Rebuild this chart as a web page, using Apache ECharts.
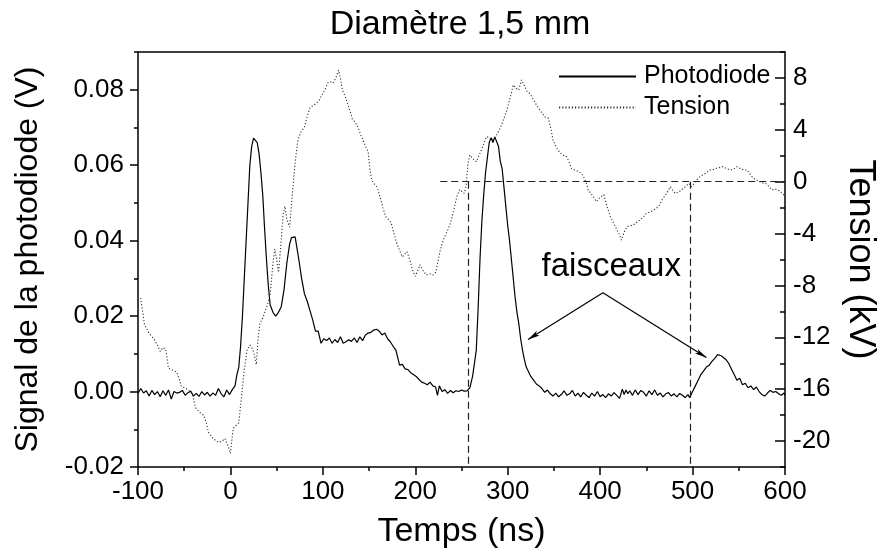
<!DOCTYPE html>
<html>
<head>
<meta charset="utf-8">
<script src="https://cdn.jsdelivr.net/npm/echarts@6/dist/echarts.min.js"></script>
<style>html,body{margin:0;padding:0;background:#fff}#c{width:882px;height:559px}</style>
</head>
<body>
<div id="c"></div>
<script>
// Photodiode signal (V) vs time (ns)
const photodiode = [
[-100,-0.0005],[-97,0.0008],[-94,-0.0004],[-91,0.0002],[-88,-0.0012],[-85,0.0003],[-82,-0.0008],[-79,0.0000],
[-76,-0.0014],[-73,0.0002],[-70,-0.0010],[-67,0.0004],[-64,-0.0020],[-61,0.0000],[-58,-0.0004],[-55,-0.0002],
[-52,0.0003],[-49,-0.0010],[-46,-0.0003],[-43,0.0001],[-40,-0.0012],[-37,-0.0005],[-34,-0.0013],[-31,0.0000],
[-28,-0.0009],[-25,-0.0002],[-22,-0.0012],[-19,-0.0004],[-16,-0.0010],[-13,0.0008],[-10,-0.0006],[-7,-0.0014],
[-4,0.0004],[-1,-0.0008],[2,0.0005],[5,0.0015],[7,0.0045],[9,0.0064],[11,0.012],[13,0.020],[15,0.030],[17,0.040],
[19,0.050],[21,0.060],[23,0.065],[25,0.0672],[27,0.0675],[29,0.066],[31,0.063],[33,0.058],[35,0.052],[37,0.043],
[39,0.035],[41,0.028],[43,0.023],[46,0.021],[49,0.0200],[52,0.0210],[55,0.0225],[58,0.027],[61,0.034],[64,0.039],
[66,0.0408],[68,0.0405],[70,0.0410],[72,0.038],[74,0.035],[77,0.030],[80,0.026],[83,0.024],[86,0.0215],[89,0.019],
[92,0.016],[95,0.0160],[98,0.0128],[101,0.0140],[104,0.0135],[107,0.0142],[110,0.0128],[113,0.0138],[116,0.0130],
[119,0.0145],[122,0.0128],[125,0.0132],[128,0.0137],[131,0.0133],[134,0.0142],[137,0.0130],[140,0.0145],[143,0.0135],
[146,0.0150],[149,0.0155],[152,0.0157],[155,0.0163],[158,0.0165],[161,0.0160],[164,0.0150],[167,0.0155],[170,0.0140],
[173,0.0132],[176,0.0120],[179,0.0110],[181,0.0090],[183,0.0070],[186,0.0072],[189,0.0060],[192,0.0058],[195,0.0050],
[198,0.0045],[201,0.0040],[204,0.0032],[207,0.0025],[210,0.0022],[213,0.0018],[216,0.0025],[219,0.0015],[222,0.0012],
[224,-0.0010],[226,0.0015],[229,0.0000],[232,0.0005],[235,-0.0005],[238,0.0003],[241,-0.0003],[244,0.0002],[247,0.0000],
[250,0.0004],[253,0.0001],[256,0.0002],[259,0.0010],[262,0.0040],[264,0.0075],[266,0.0110],[268,0.022],[270,0.035],
[272,0.045],[274,0.052],[276,0.058],[278,0.062],[280,0.066],[282,0.0673],[284,0.0660],[286,0.0675],[288,0.0670],
[290,0.0650],[292,0.0610],[294,0.0590],[296,0.054],[298,0.049],[300,0.044],[302,0.040],[304,0.035],[306,0.030],
[308,0.025],[310,0.021],[312,0.018],[314,0.014],[316,0.011],[318,0.0085],[320,0.0065],[322,0.0055],[325,0.0040],
[328,0.0030],[331,0.0020],[334,0.0015],[337,0.0008],[340,-0.0002],[343,0.0004],[346,-0.0006],[349,-0.0012],
[352,-0.0004],[355,-0.0014],[358,-0.0008],[361,0.0002],[364,-0.0010],[367,-0.0006],[370,0.0003],[373,-0.0012],
[376,-0.0004],[379,-0.0014],[382,-0.0002],[385,-0.0010],[388,-0.0016],[391,-0.0004],[394,-0.0012],[397,0.0000],
[400,-0.0014],[403,-0.0008],[406,-0.0016],[409,-0.0006],[412,-0.0012],[415,-0.0003],[418,-0.0010],[421,-0.0018],
[424,0.0006],[426,-0.0008],[428,0.0004],[430,-0.0006],[432,0.0002],[435,-0.0010],[438,0.0004],[441,-0.0008],
[444,0.0003],[447,-0.0002],[450,-0.0012],[453,0.0002],[456,-0.0008],[459,0.0004],[462,-0.0010],[465,-0.0004],
[468,-0.0014],[471,-0.0006],[474,-0.0003],[477,-0.0012],[480,-0.0006],[483,-0.0014],[486,-0.0005],[489,-0.0010],
[492,-0.0016],[495,-0.0008],[497,-0.0016],[500,0.0000],[503,0.0015],[506,0.0030],[509,0.0045],[512,0.0055],
[515,0.0065],[518,0.0070],[521,0.0080],[524,0.0088],[527,0.0098],[529,0.0101],[531,0.0095],[533,0.0090],[536,0.0085],
[539,0.0075],[542,0.0060],[545,0.0045],[548,0.0030],[551,0.0035],[554,0.0018],[557,0.0022],[560,0.0010],[563,0.0015],
[566,0.0005],[569,0.0012],[572,0.0000],[575,-0.0008],[578,-0.0012],[581,-0.0004],[584,0.0003],[587,-0.0002],
[590,0.0000],[593,-0.0006],[596,-0.0010],[599,-0.0004],[600,-0.0010]
];
// Tension (kV) vs time (ns)
const tension = [
[-100,-9.2],[-97,-9.0],[-93,-11.0],[-88,-11.7],[-83,-12.1],[-79,-12.6],[-76,-13.1],[-73,-12.8],[-70,-12.9],[-67,-14.4],
[-63,-14.5],[-58,-14.7],[-55,-15.3],[-53,-15.8],[-49,-15.9],[-45,-16.1],[-41,-16.4],[-38,-17.4],[-33,-17.8],[-29,-18.0],
[-26,-18.6],[-24,-19.3],[-19,-19.8],[-13,-20.1],[-9,-20.0],[-6,-19.8],[-3,-20.3],[0,-20.96],[3,-19.0],[6,-18.8],
[9,-18.6],[12,-16.6],[15,-14.5],[18,-13.0],[21,-12.6],[24,-12.9],[26,-13.4],[28,-14.1],[30,-12.0],[32,-10.9],
[35,-10.5],[37,-10.4],[40,-9.5],[43,-8.7],[46,-6.3],[48,-5.2],[50,-6.0],[52,-7.0],[55,-4.5],[57,-2.5],[59,-1.9],
[61,-2.9],[64,-3.5],[67,-1.0],[70,1.5],[73,3.2],[76,3.8],[80,4.2],[83,5.0],[86,5.7],[90,5.9],[93,6.05],[96,6.3],
[100,6.8],[103,7.2],[105,7.6],[108,7.7],[111,7.6],[114,8.0],[117,8.6],[119,8.0],[121,7.1],[124,6.6],[127,6.0],
[130,5.3],[132,4.8],[135,4.6],[138,4.2],[141,3.6],[144,3.1],[147,2.6],[149,2.3],[151,0.9],[153,0.1],[156,-0.2],
[159,-0.45],[162,-1.2],[165,-2.0],[168,-2.7],[171,-2.9],[174,-3.2],[177,-4.0],[180,-4.75],[183,-5.3],[186,-5.8],
[188,-5.9],[191,-5.4],[194,-6.0],[197,-6.8],[200,-7.3],[203,-6.8],[205,-6.4],[208,-6.8],[212,-7.2],[216,-7.1],
[219,-7.2],[222,-7.0],[225,-6.0],[227,-5.3],[229,-4.75],[232,-4.2],[236,-3.6],[239,-2.96],[242,-2.1],[245,-1.16],
[248,-0.6],[250,-0.5],[253,-0.9],[255,-0.3],[257,1.4],[259,2.06],[262,1.8],[266,1.54],[270,2.2],[274,2.9],[277,3.47],
[280,3.4],[283,3.2],[286,3.4],[288,3.6],[291,4.0],[294,4.5],[297,5.1],[299,5.5],[302,6.3],[306,7.46],[309,7.2],
[312,7.07],[315,7.85],[318,7.4],[321,6.95],[324,6.8],[328,6.3],[332,5.8],[336,5.4],[340,5.0],[344,4.9],[347,4.0],
[349,3.2],[353,2.6],[357,2.2],[361,2.0],[364,1.9],[367,1.4],[369,1.0],[373,0.9],[377,0.77],[380,0.6],[382,0.39],
[385,-0.1],[387,-0.64],[391,-1.0],[394,-1.3],[396,-1.54],[400,-1.2],[404,-1.0],[407,-1.8],[411,-2.7],[414,-3.1],
[418,-3.7],[421,-4.1],[423,-4.5],[426,-3.9],[429,-3.47],[432,-3.4],[436,-3.34],[440,-3.1],[443,-2.96],[447,-2.7],
[450,-2.44],[455,-2.3],[461,-2.05],[464,-1.8],[467,-1.4],[471,-1.0],[476,-0.39],[478,-0.6],[481,-0.9],[485,-0.8],
[488,-0.64],[492,-0.4],[496,-0.13],[499,-0.39],[503,0.0],[508,0.39],[513,0.6],[519,0.9],[523,0.95],[526,1.03],
[530,1.1],[533,1.16],[537,1.0],[541,0.9],[545,1.0],[548,1.16],[552,1.0],[556,0.9],[559,0.9],[563,0.5],[566,0.26],
[570,0.1],[573,0.0],[576,-0.1],[579,-0.13],[583,-0.4],[586,-0.64],[589,-0.55],[591,-0.5],[594,-0.7],[597,-0.9],[600,-1.1]
];
const xTicks = {min: -100, max: 600, step: 100};
const leftMajor = [-0.02, 0, 0.02, 0.04, 0.06, 0.08];
const rightMajor = [-20, -16, -12, -8, -4, 0, 4, 8];
// annotation lines (data coords): dashed guides on Tension axis, arrows on Photodiode axis
const guideLines = [[[227, 0], [600, 0]], [[257, 0], [257, -22]], [[497, 0], [497, -22]]];
const arrowLines = [[[403, 0.0262], [322, 0.0138]], [[403, 0.0262], [515, 0.0090]]];
const labelPoint = [412, 0.0331];

const FONT = "'Liberation Sans', Arial, sans-serif";
const chart = echarts.init(document.getElementById('c'), null, {renderer: 'canvas'});
const axisLineStyle = {show: true, onZero: false, lineStyle: {color: '#000', width: 1.5}};
const labelStyle = {color: '#000', fontFamily: FONT, fontSize: 26};

chart.setOption({
  animation: false,
  backgroundColor: '#fff',
  graphic: [{type: 'text', x: 460, y: 8, style: {text: 'Diamètre 1,5 mm', font: '34px ' + FONT, fill: '#000', textAlign: 'center', textVerticalAlign: 'top'}}],
  grid: {left: 138, right: 97, top: 52, bottom: 92, outerBoundsMode: 'none', containLabel: false},
  legend: {
    left: 553, top: 59, orient: 'vertical', itemWidth: 77, itemHeight: 14, itemGap: 6,
    itemStyle: {opacity: 0},
    textStyle: {fontFamily: FONT, fontSize: 25, color: '#000', padding: [0, 0, 0, 3]},
    data: ['Photodiode', 'Tension']
  },
  xAxis: [
    {type: 'value', min: xTicks.min, max: xTicks.max, interval: xTicks.step, position: 'bottom',
     axisLine: axisLineStyle, axisTick: {show: true, length: 8, lineStyle: {color: '#000', width: 1.5}},
     minorTick: {show: true, splitNumber: 2, length: 4, lineStyle: {color: '#000', width: 1.5}},
     axisLabel: Object.assign({margin: 12}, labelStyle), splitLine: {show: false},
     name: 'Temps (ns)', nameLocation: 'middle', nameGap: 48,
     nameTextStyle: {fontFamily: FONT, fontSize: 34, color: '#000'}},
    {type: 'value', min: xTicks.min, max: xTicks.max, position: 'top',
     axisLine: axisLineStyle, axisTick: {show: false}, axisLabel: {show: false}, splitLine: {show: false}}
  ],
  yAxis: [
    {type: 'value', min: -0.02, max: 0.09, interval: 0.01, position: 'left',
     axisLine: axisLineStyle, axisTick: {show: true, length: 4, lineStyle: {color: '#000', width: 1.5}},
     axisLabel: Object.assign({margin: 14, formatter: v => {const k = Math.round(v * 100); return (k % 2 === 0 && k <= 8) ? (k / 100).toFixed(2) : '';}}, labelStyle),
     splitLine: {show: false},
     name: 'Signal de la photodiode (V)', nameLocation: 'middle', nameGap: 94,
     nameTextStyle: {fontFamily: FONT, fontSize: 32, color: '#000'}},
    {type: 'value', min: -22, max: 10, interval: 2, position: 'right',
     axisLine: axisLineStyle, axisTick: {show: true, inside: true, length: 5, lineStyle: {color: '#000', width: 1.5}},
     axisLabel: Object.assign({margin: 8, formatter: v => (Math.round(v) % 4 === 0 && v <= 8) ? String(Math.round(v)) : ''}, labelStyle),
     splitLine: {show: false},
     name: 'Tension (kV)', nameLocation: 'middle', nameGap: 52, nameRotate: -90,
     nameTextStyle: {fontFamily: FONT, fontSize: 36, color: '#000'}},
    {type: 'value', min: -0.02, max: 0.09, interval: 0.01, position: 'left',
     axisLine: {show: false, onZero: false}, axisLabel: {show: false}, splitLine: {show: false},
     axisTick: {show: true, length: 8, customValues: leftMajor, lineStyle: {color: '#000', width: 1.5}}},
    {type: 'value', min: -22, max: 10, interval: 2, position: 'right',
     axisLine: {show: false, onZero: false}, axisLabel: {show: false}, splitLine: {show: false},
     axisTick: {show: true, inside: true, length: 10, customValues: rightMajor, lineStyle: {color: '#000', width: 1.5}}}
  ],
  series: [
    {name: 'Photodiode', type: 'line', xAxisIndex: 0, yAxisIndex: 0, data: photodiode,
     symbol: 'none', lineStyle: {color: '#000', width: 1.2}, itemStyle: {color: '#000'},
     markLine: {silent: true, symbol: ['none', 'arrow'], symbolSize: [4, 12], label: {show: false},
       lineStyle: {color: '#000', width: 1.2, type: 'solid'},
       data: arrowLines.map(l => [{coord: l[0]}, {coord: l[1]}])},
     markPoint: {silent: true, symbol: 'circle', symbolSize: 0,
       label: {show: true, position: 'inside', formatter: 'faisceaux', fontFamily: FONT, fontSize: 33, color: '#000'},
       data: [{coord: labelPoint}]}},
    {name: 'Tension', type: 'line', xAxisIndex: 0, yAxisIndex: 1, data: tension,
     symbol: 'none', lineStyle: {color: '#333', width: 1.1, type: [1.2, 2]}, itemStyle: {color: '#333'},
     markLine: {silent: true, symbol: ['none', 'none'], label: {show: false},
       lineStyle: {color: '#222', width: 1.2, type: [7, 4]},
       data: guideLines.map(l => [{coord: l[0]}, {coord: l[1]}])}}
  ]
});
</script>
</body>
</html>
